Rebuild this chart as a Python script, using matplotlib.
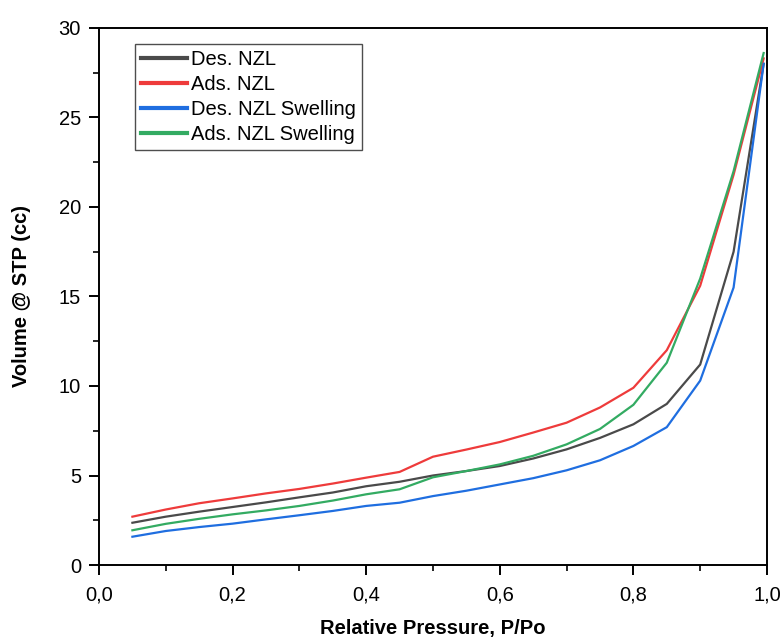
import matplotlib.pyplot as plt
import matplotlib.ticker as mticker

plt.rcParams['font.family'] = ['Liberation Sans', 'DejaVu Sans']

# relative pressure P/Po
p = [0.05, 0.10, 0.15, 0.20, 0.25, 0.30, 0.35, 0.40, 0.45, 0.50,
     0.55, 0.60, 0.65, 0.70, 0.75, 0.80, 0.85, 0.90, 0.95, 0.995]

des_nzl = [2.36, 2.70, 2.98, 3.24, 3.50, 3.78, 4.05, 4.40, 4.65, 5.00,
           5.25, 5.53, 5.95, 6.46, 7.10, 7.86, 9.00, 11.2, 17.5, 28.0]
ads_nzl = [2.70, 3.10, 3.45, 3.72, 4.00, 4.25, 4.55, 4.88, 5.20, 6.05,
           6.45, 6.87, 7.40, 7.95, 8.80, 9.90, 12.0, 15.6, 21.8, 28.3]
des_sw = [1.58, 1.90, 2.12, 2.31, 2.55, 2.78, 3.02, 3.30, 3.48, 3.85,
          4.15, 4.50, 4.85, 5.29, 5.85, 6.65, 7.70, 10.3, 15.5, 28.0]
ads_sw = [1.94, 2.30, 2.58, 2.83, 3.05, 3.30, 3.60, 3.95, 4.23, 4.90,
          5.25, 5.62, 6.10, 6.74, 7.60, 8.95, 11.3, 16.0, 22.0, 28.6]

fig = plt.figure(figsize=(7.82, 6.39), dpi=100)
ax = fig.add_axes([0.1266, 0.1158, 0.8542, 0.8404])

ax.plot(p, des_nzl, color='#4a4a4a', lw=1.6, label='Des. NZL')
ax.plot(p, ads_nzl, color='#ee3b3b', lw=1.6, label='Ads. NZL')
ax.plot(p, des_sw, color='#1f6ee0', lw=1.6, label='Des. NZL Swelling')
ax.plot(p, ads_sw, color='#33ab62', lw=1.6, label='Ads. NZL Swelling')

ax.set_xlim(0, 1.0)
ax.set_ylim(0, 30)
ax.xaxis.set_major_locator(mticker.MultipleLocator(0.2))
ax.xaxis.set_minor_locator(mticker.MultipleLocator(0.1))
ax.yaxis.set_major_locator(mticker.MultipleLocator(5))
ax.yaxis.set_minor_locator(mticker.MultipleLocator(2.5))
ax.xaxis.set_major_formatter(mticker.FuncFormatter(lambda v, pos: f'{v:.1f}'.replace('.', ',')))

for s in ax.spines.values():
    s.set_linewidth(1.4)
ax.tick_params(which='major', direction='out', length=7, width=1.4, labelsize=14.5, pad=6)
ax.tick_params(which='minor', direction='out', length=4, width=1.2)
ax.tick_params(axis='x', pad=8)

ax.set_xlabel('Relative Pressure, P/Po', fontsize=14.5, fontweight='bold', labelpad=10)
ax.set_ylabel('Volume @ STP (cc)', fontsize=14.5, fontweight='bold', labelpad=20)

leg = ax.legend(loc='upper left', bbox_to_anchor=(0.054, 0.97), fontsize=14.5,
                frameon=True, fancybox=False, handlelength=2.3, handletextpad=0.2,
                borderpad=0.3, labelspacing=0.3, borderaxespad=0)
leg.get_frame().set_edgecolor('#222222')
leg.get_frame().set_linewidth(1.0)
for h in leg.get_lines():
    h.set_linewidth(3)

plt.savefig('out.png', dpi=100)
